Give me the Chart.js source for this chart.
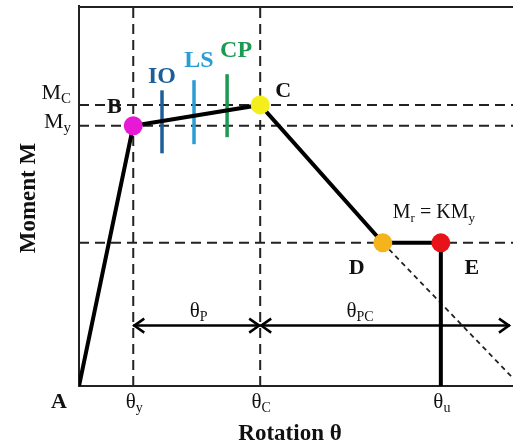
<!DOCTYPE html>
<html>
<head>
<meta charset="utf-8">
<script src="https://cdn.jsdelivr.net/npm/chart.js@4.4.1/dist/chart.umd.min.js"></script>
<style>
html,body{margin:0;padding:0;background:#fff;}
#wrap{width:513px;height:445px;position:relative;}
</style>
</head>
<body>
<div id="wrap"><canvas id="c" width="513" height="445"></canvas></div>
<script>
// ---- data ----
const pointNames = ['A', 'B', 'C', 'D', 'E'];
const rotation = [0, 1.0, 3.34, 5.6, 6.67];
const moment = [0, 1.0, 1.08, 0.55, 0.55];
const markerColors = [null, '#e619d6', '#f4ee1c', '#f6b41c', '#e8121a'];
const failureRotation = [6.67, 6.67];
const failureMoment = [0.55, 0];
const extensionRotation = [5.6, 8.0];
const extensionMoment = [0.55, 0.03];
const perfLabels = ['IO', 'LS', 'CP'];
const perfRotation = [1.53, 2.12, 2.73];
const perfLow = [0.894, 0.929, 0.956];
const perfHigh = [1.136, 1.175, 1.198];
const perfColors = ['#1b5e98', '#2a9dd4', '#1a9a52'];
const refMoments = [1.08, 1.0, 0.55];
const refRotations = [1.0, 3.34];
const yTickValues = [1.08, 1.0];
const yTickLabels = [['M', 'C'], ['M', 'y']];
const xTickValues = [1.0, 3.34, 6.67];
const xTickLabels = [['θ', 'y'], ['θ', 'C'], ['θ', 'u']];
const spanLabels = [['θ', 'P'], ['θ', 'PC']];
const spanFrom = [1.0, 3.34];
const spanTo = [3.34, 8.0];
const spanMoment = 0.232;
const X_MAX = 8, Y_MAX = 1.46;

// ---- datasets ----
const datasets = [];
refMoments.forEach(m => datasets.push({
  data: [{x: 0, y: m}, {x: X_MAX, y: m}],
  borderColor: '#222', borderWidth: 2, borderDash: [10, 6], pointRadius: 0, order: 5
}));
refRotations.forEach(r => datasets.push({
  data: [{x: r, y: 0}, {x: r, y: Y_MAX}],
  borderColor: '#222', borderWidth: 2, borderDash: [10, 6], pointRadius: 0, order: 5
}));
datasets.push({
  data: extensionRotation.map((r, i) => ({x: r, y: extensionMoment[i]})),
  borderColor: '#222', borderWidth: 1.8, borderDash: [5, 4], pointRadius: 0, order: 4
});
perfRotation.forEach((r, i) => datasets.push({
  data: [{x: r, y: perfLow[i]}, {x: r, y: perfHigh[i]}],
  borderColor: perfColors[i], borderWidth: 3.5, pointRadius: 0, order: 3
}));
datasets.push({
  data: rotation.map((r, i) => ({x: r, y: moment[i]}))
    .concat([{x: failureRotation[1], y: failureMoment[1]}]),
  borderColor: '#000', borderWidth: 4, pointRadius: 0, order: 2, borderJoinStyle: 'miter'
});
datasets.push({
  data: rotation.slice(1).map((r, i) => ({x: r, y: moment[i + 1]})),
  showLine: false, pointRadius: 9.5, pointHoverRadius: 9.5,
  pointBackgroundColor: markerColors.slice(1), pointBorderWidth: 0, order: 1
});

// ---- text helpers ----
const SERIF = '"Liberation Serif", "Times New Roman", serif';
function subText(ctx, main, sub, x, y, size, align, bold) {
  const w = bold ? 'bold ' : '';
  ctx.font = w + size + 'px ' + SERIF;
  const w1 = ctx.measureText(main).width;
  const ss = Math.round(size * 0.66);
  ctx.font = w + ss + 'px ' + SERIF;
  const w2 = sub ? ctx.measureText(sub).width : 0;
  let x0 = x;
  if (align === 'center') x0 = x - (w1 + w2) / 2;
  else if (align === 'right') x0 = x - (w1 + w2);
  ctx.textAlign = 'left';
  ctx.textBaseline = 'alphabetic';
  ctx.font = w + size + 'px ' + SERIF;
  ctx.fillText(main, x0, y);
  if (sub) {
    ctx.font = w + ss + 'px ' + SERIF;
    ctx.fillText(sub, x0 + w1, y + size * 0.2);
  }
  return w1 + w2;
}

const annot = {
  id: 'annot',
  afterDraw(chart) {
    const {ctx, chartArea: ca, scales: {x, y}} = chart;
    ctx.save();
    ctx.fillStyle = '#111';
    ctx.strokeStyle = '#222';
    // top border
    ctx.lineWidth = 2;
    ctx.beginPath(); ctx.moveTo(ca.left, ca.top + 1); ctx.lineTo(ca.right, ca.top + 1); ctx.stroke();

    // span arrows
    const ay = y.getPixelForValue(spanMoment);
    ctx.lineWidth = 2.5; ctx.strokeStyle = '#000';
    spanFrom.forEach((f, i) => {
      let x1 = x.getPixelForValue(f), x2 = x.getPixelForValue(spanTo[i]);
      if (i === spanFrom.length - 1) x2 -= 3;
      ctx.beginPath(); ctx.moveTo(x1, ay); ctx.lineTo(x2, ay); ctx.stroke();
      [[x1, 1], [x2, -1]].forEach(([px, d]) => {
        ctx.beginPath();
        ctx.moveTo(px + d * 11, ay - 7);
        ctx.lineTo(px + 1 * d, ay);
        ctx.lineTo(px + d * 11, ay + 7);
        ctx.stroke();
      });
      subText(ctx, spanLabels[i][0], spanLabels[i][1], (x1 + x2) / 2 + (i === 0 ? 2 : -25), ay - 9, 21, 'center', false);
    });

    // y tick labels
    const yOff = [-6, 2];
    yTickValues.forEach((v, i) => {
      subText(ctx, yTickLabels[i][0], yTickLabels[i][1], ca.left - 8, y.getPixelForValue(v) + yOff[i], 22, 'right', false);
    });
    // x tick labels
    xTickValues.forEach((v, i) => {
      subText(ctx, xTickLabels[i][0], xTickLabels[i][1], x.getPixelForValue(v) + 1, ca.bottom + 22, 21, 'center', false);
    });

    // point labels
    const lblOff = [[-20, 22], [-19, -13], [23, -8], [-26, 31], [31, 31]];
    pointNames.forEach((n, i) => {
      const px = x.getPixelForValue(rotation[i]), py = y.getPixelForValue(moment[i]);
      ctx.font = 'bold 22px ' + SERIF;
      ctx.textAlign = 'center'; ctx.textBaseline = 'alphabetic';
      ctx.fillText(n, px + lblOff[i][0], py + lblOff[i][1]);
    });

    // performance labels
    const perfBase = [83, 67, 57];
    const perfDx = [0, 5, 9];
    perfLabels.forEach((l, i) => {
      ctx.fillStyle = perfColors[i];
      ctx.font = 'bold 24px ' + SERIF;
      ctx.textAlign = 'center'; ctx.textBaseline = 'alphabetic';
      ctx.fillText(l, x.getPixelForValue(perfRotation[i]) + perfDx[i], perfBase[i]);
    });

    // residual label
    ctx.fillStyle = '#111';
    const rx = x.getPixelForValue(rotation[3]) + 10;
    const ry = y.getPixelForValue(moment[3]) - 25;
    let cx = rx;
    cx += subText(ctx, 'M', 'r', cx, ry, 20, 'left', false);
    ctx.font = '20px ' + SERIF;
    ctx.fillText(' = K', cx, ry);
    cx += ctx.measureText(' = K').width;
    subText(ctx, 'M', 'y', cx, ry, 20, 'left', false);

    // axis titles
    ctx.font = 'bold 23px ' + SERIF;
    ctx.textAlign = 'center'; ctx.textBaseline = 'alphabetic';
    ctx.fillText('Rotation θ', 290, 440);
    ctx.save();
    ctx.translate(35, 198);
    ctx.rotate(-Math.PI / 2);
    ctx.fillText('Moment M', 0, 0);
    ctx.restore();
    ctx.restore();
  }
};

new Chart(document.getElementById('c'), {
  type: 'line',
  data: {datasets},
  options: {
    responsive: false,
    animation: false,
    events: [],
    layout: {autoPadding: false, padding: {top: 6, right: 0, left: 0, bottom: 0}},
    plugins: {legend: {display: false}, tooltip: {enabled: false}},
    scales: {
      x: {
        type: 'linear', min: 0, max: X_MAX,
        grid: {display: false},
        ticks: {display: false},
        border: {display: true, color: '#222', width: 2},
        afterFit(s) { s.height = 59; }
      },
      y: {
        type: 'linear', min: 0, max: Y_MAX,
        grid: {display: false},
        ticks: {display: false},
        border: {display: true, color: '#222', width: 2},
        afterFit(s) { s.width = 79; }
      }
    }
  },
  plugins: [annot]
});
</script>
</body>
</html>
